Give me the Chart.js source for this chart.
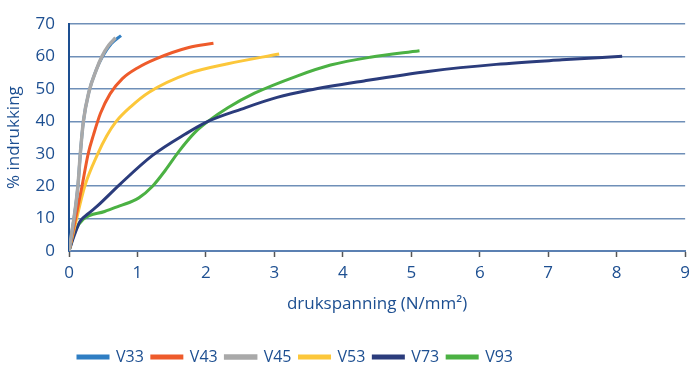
<!DOCTYPE html>
<html><head><meta charset="utf-8">
<script src="https://cdn.jsdelivr.net/npm/chart.js@4"></script>
<style>html,body{margin:0;padding:0;background:#fff}#wrap{width:696px;height:367px}</style>
</head><body><div id="wrap"><canvas id="c" width="696" height="367"></canvas></div>
<script>
const seriesNames = ['V33','V43','V45','V53','V73','V93'];
const v33X = [0, 0.13, 0.165, 0.21, 0.29, 0.40, 0.49, 0.62, 0.76];
const v33Y = [0, 20, 30, 40, 49, 56, 60, 64, 66.5];
const v43X = [0, 0.19, 0.28, 0.36, 0.46, 0.6, 0.78, 1.0, 1.27, 1.75, 2.11];
const v43Y = [0, 20, 30, 36, 42.5, 48.5, 53.2, 56.5, 59.3, 62.8, 64.1];
const v45X = [0, 0.13, 0.165, 0.21, 0.29, 0.40, 0.48, 0.58, 0.68];
const v45Y = [0, 20, 30, 40, 49, 56, 60, 63.5, 65.8];
const v53X = [0, 0.1, 0.23, 0.42, 0.55, 0.69, 0.9, 1.17, 1.75, 2.32, 3.07];
const v53Y = [0, 9, 20, 30, 35.5, 40, 44.5, 49, 54.8, 57.8, 60.8];
const v73X = [0, 0.08, 0.16, 0.28, 0.42, 0.74, 1.22, 1.70, 2.03, 2.52, 3.04, 3.5, 4.31, 5.27, 6.24, 7.2, 8.08];
const v73Y = [0, 5, 9.1, 11.5, 14, 20.5, 29.5, 36.1, 40, 43.8, 47.4, 49.6, 52.5, 55.5, 57.6, 59, 60.1];
const v93X = [0, 0.09, 0.21, 0.52, 0.74, 1.02, 1.22, 1.41, 1.6, 1.84, 2.03, 2.32, 2.71, 3.33, 3.82, 4.4, 5.12];
const v93Y = [0, 6.2, 9.8, 12.2, 13.9, 16.4, 20, 25, 30.6, 36.6, 40, 44.2, 48.7, 54, 57.4, 59.8, 61.8];
const xTicks = [0,1,2,3,4,5,6,7,8,9];
const yTicks = [0,10,20,30,40,50,60,70];

const colors = ['#2f7ec3','#ee5b2b','#a9a9a9','#fcc73a','#2b3c7c','#4bb143'];
const xs = [v33X,v43X,v45X,v53X,v73X,v93X];
const ys = [v33Y,v43Y,v45Y,v53Y,v73Y,v93Y];
const pts = (X,Y)=>X.map((x,i)=>({x:x,y:Y[i]}));
const textColor = '#1d4f91';
const font = {family:'"Open Sans", sans-serif', size:17};
const legFont = {family:'"Open Sans", sans-serif', size:16};

const legendShift = {
  id:'legendShift',
  afterLayout(chart){
    const lg = chart.legend;
    if (lg) { lg.left = 70; }
  }
};

new Chart(document.getElementById('c'), {
  type:'line',
  data:{datasets: seriesNames.map((n,i)=>({
    label:n, data:pts(xs[i],ys[i]), borderColor:colors[i], backgroundColor:colors[i],
    borderWidth: i===2?3.5:3, pointRadius:0, fill:false,
    cubicInterpolationMode:'monotone', order: i===2?0:1
  }))},
  plugins:[legendShift],
  options:{
    responsive:false, animation:false,
    layout:{padding:{top:19,right:2,left:0,bottom:-8}},
    plugins:{
      legend:{position:'bottom', align:'start',
        labels:{color:textColor, font:legFont, boxWidth:30, boxHeight:2, padding:8,
          sort:(a,b)=>a.datasetIndex-b.datasetIndex}},
      tooltip:{enabled:false}
    },
    scales:{
      x:{type:'linear', min:0, max:9,
        afterBuildTicks:(s)=>{s.ticks = xTicks.map(v=>({value:v}));},
        ticks:{color:textColor, font:font, padding:6, maxRotation:0},
        grid:{drawOnChartArea:false, drawTicks:true, tickLength:6, tickColor:'#555', tickWidth:1.5},
        border:{color:'#5b80b2', width:2},
        title:{display:true, text:'drukspanning (N/mm²)', color:textColor, font:font, padding:{top:8,bottom:27}},
        afterFit:(s)=>{s.height = 90;}
      },
      y:{type:'linear', min:0, max:70,
        afterBuildTicks:(s)=>{s.ticks = yTicks.map(v=>({value:v}));},
        ticks:{color:textColor, font:font, padding:14},
        grid:{color:'#6f8fb8', lineWidth:1.5, drawTicks:false},
        border:{color:'#1d4f91', width:2},
        title:{display:true, text:'% indrukking', color:textColor, font:font, padding:{top:4,bottom:0}},
        afterFit:(s)=>{s.width = 69;}
      }
    }
  }
});
</script></body></html>
